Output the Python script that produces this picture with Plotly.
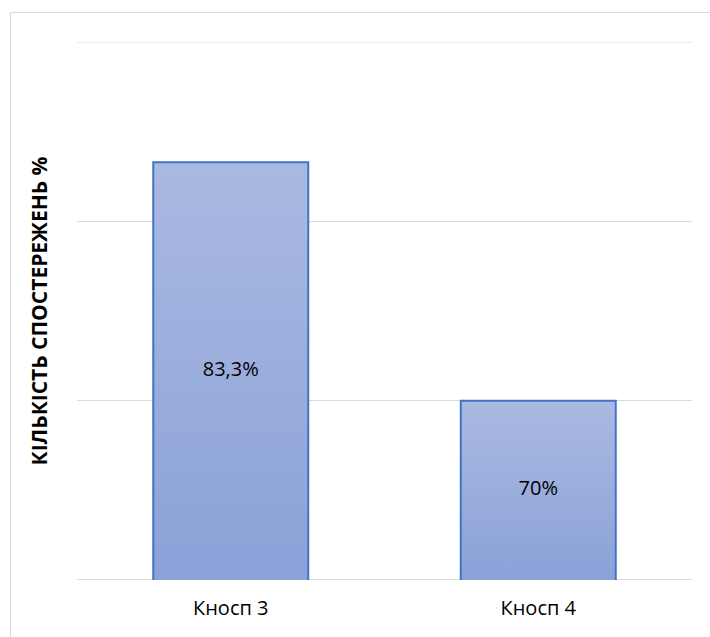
import plotly.graph_objects as go

# Data
categories = ["Кносп 3", "Кносп 4"]
values = [83.3, 70]
y_title = "КІЛЬКІСТЬ СПОСТЕРЕЖЕНЬ %"
y_min, y_max, y_step = 60, 90, 10

labels = [("%g" % v).replace(".", ",") + "%" for v in values]
xs = list(range(len(categories)))
half_w = 0.252

FONT = "Open Sans, Noto Sans, sans-serif"
fig = go.Figure()

# Bars: gradient-filled columns with a blue outline on three sides
for x, v in zip(xs, values):
    fig.add_trace(go.Scatter(
        x=[x - half_w, x - half_w, x + half_w, x + half_w],
        y=[y_min, v, v, y_min],
        mode="lines", line=dict(color="#4472C4", width=2), fill="toself",
        fillgradient=dict(type="vertical",
                          colorscale=[[0, "#8AA2D8"], [1, "#AAB9E1"]]),
        hoverinfo="skip", showlegend=False,
    ))

# Value labels at the middle of each bar
fig.add_trace(go.Scatter(
    x=xs, y=[(y_min + v) / 2 for v in values],
    mode="text", text=labels, textposition="middle center",
    textfont=dict(family=FONT, size=20, color="#000000"),
    hoverinfo="skip", showlegend=False,
))

fig.update_layout(
    width=710, height=637,
    margin=dict(l=77, r=18, t=42, b=57),
    paper_bgcolor="white", plot_bgcolor="white",
    font=dict(family=FONT, size=20, color="#000000"),
    xaxis=dict(
        tickmode="array", tickvals=xs, ticktext=categories,
        range=[-0.5, len(categories) - 0.5],
        showgrid=False, zeroline=False, showline=False, ticks="",
        ticklabelstandoff=14,
        tickfont=dict(family=FONT, size=20, color="#000000"),
    ),
    yaxis=dict(
        range=[y_min, y_max], dtick=y_step, tick0=y_min,
        showgrid=True, gridcolor="#D9D9D9", gridwidth=1,
        showticklabels=False, zeroline=False, showline=False, ticks="",
        title=dict(text="<b>" + y_title + "</b>", standoff=22,
                   font=dict(family=FONT, size=21, color="#000000")),
    ),
    shapes=[
        # Chart-area frame
        dict(type="rect", xref="paper", yref="paper",
             x0=(10.5 - 77) / 615, x1=(720 - 77) / 615,
             y0=(580 - 650) / 538, y1=(580 - 12.5) / 538,
             line=dict(color="#D9D9D9", width=1), layer="below"),
        # Top gridline at the end of the value range
        dict(type="line", xref="paper", yref="y", x0=0, x1=1,
             y0=y_max, y1=y_max, line=dict(color="#D9D9D9", width=1),
             layer="below"),
        # Baseline
        dict(type="line", xref="paper", yref="y", x0=0, x1=1,
             y0=y_min, y1=y_min, line=dict(color="#D0D0D0", width=1.5),
             layer="below"),
    ],
)

fig.write_html("out.html")
